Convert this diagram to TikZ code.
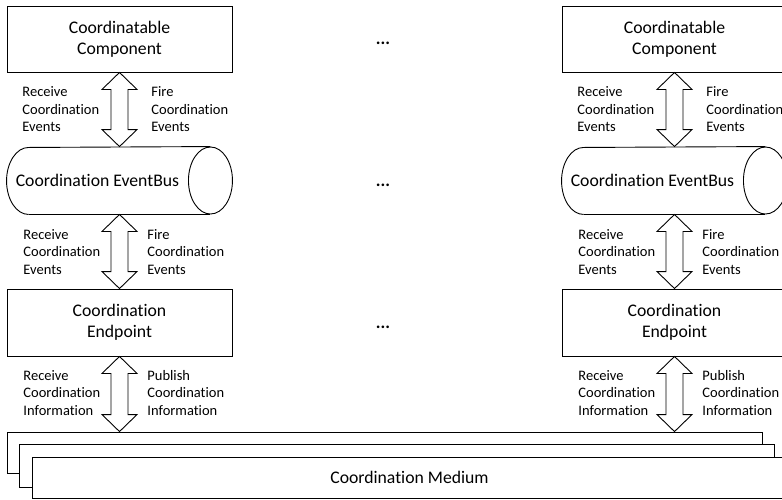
\documentclass[tikz,border=0pt]{standalone}
\usepackage{fontspec}
\setmainfont{Carlito}[Ligatures=NoCommon]
\usetikzlibrary{calc}
\begin{document}
\begin{tikzpicture}[x=1pt,y=-1pt,line width=0.9pt,
  bigtext/.style={font=\fontsize{17.7}{21}\selectfont},
  box/.style={draw,fill=white,inner sep=0pt,minimum width=225pt,minimum height=66pt,align=center,bigtext},
  busbody/.style={inner sep=0pt,minimum width=181pt,minimum height=67pt,bigtext},
  medium/.style={draw,fill=white,inner sep=0pt,minimum width=755pt,minimum height=41pt,bigtext},
  lbl/.style={anchor=west,align=left,inner sep=0pt,font=\fontsize{14.5}{17.5}\selectfont},
  dots/.style={inner sep=0pt,font=\fontsize{17.7}{21}\selectfont\bfseries},
  fat arrow/.style={draw,fill=white,to path={
    let \p1=(\tikztostart), \p2=(\tikztotarget) in
    (\x1,\y1) -- (\x1+17.5pt,\y1-17pt) -- (\x1+8.5pt,\y1-17pt) -- (\x1+8.5pt,\y2+17pt)
    -- (\x1+17.5pt,\y2+17pt) -- (\x1,\y2) -- (\x1-17.5pt,\y2+17pt) -- (\x1-8.5pt,\y2+17pt)
    -- (\x1-8.5pt,\y1-17pt) -- (\x1-17.5pt,\y1-17pt) -- cycle}}
]
\useasboundingbox (0,0) rectangle (782,499);

% coordination medium: three stacked sheets
\node[medium] (m1) at (384.5,452.5) {};
\node[medium,minimum height=43pt] (m2) at (396.5,465.5) {};
\node[medium] (m3) at (409.5,477.5) {Coordination Medium};

% two columns of the stack
\foreach \c/\dx in {L/0,R/555} {
  \begin{scope}[xshift=\dx pt]
    \node[box] (top\c) at (119.5,39) {Coordinatable\\Component};
    \node[busbody] (bus\c) at (97.5,180.5) {Coordination EventBus};
    \node[box,minimum height=67pt] (ep\c) at (119.5,322.5) {Coordination\\Endpoint};

    % event bus drawn as a horizontal cylinder
    \draw ([xshift=22pt]bus\c.south west)
      arc[start angle=270,end angle=90,x radius=22pt,y radius=33.5pt]
      -- ([xshift=22pt]bus\c.north east);
    \draw ([xshift=22pt]bus\c.south west) -- ([xshift=22pt]bus\c.south east);
    \draw ([xshift=22pt]bus\c.east) ellipse[x radius=22pt,y radius=33.5pt];

    % bidirectional arrows
    \draw[fat arrow] (top\c.south) to (bus\c.north);
    \draw[fat arrow] (top\c.south |- bus\c.south) to (ep\c.north);
    \draw[fat arrow] (ep\c.south) to (ep\c.south |- m1.north);

    % arrow labels
    \node[lbl] (rcvA\c) at (22,109.5) {Receive\\Coordination\\Events};
    \node[lbl] (fireA\c) at (151,109.5) {Fire\\Coordination\\Events};
    \node[lbl] (rcvB\c) at (23,252) {Receive\\Coordination\\Events};
    \node[lbl] (fireB\c) at (147,252) {Fire\\Coordination\\Events};
    \node[lbl] (rcvC\c) at (23,393) {Receive\\Coordination\\Information};
    \node[lbl] (pubC\c) at (147,393) {Publish\\Coordination\\Information};
  \end{scope}
}

% ellipses between the columns
\node[dots] (dotsA) at (383,43) {...};
\node[dots] (dotsB) at (383,185) {...};
\node[dots] (dotsC) at (383,327) {...};
\end{tikzpicture}
\end{document}
